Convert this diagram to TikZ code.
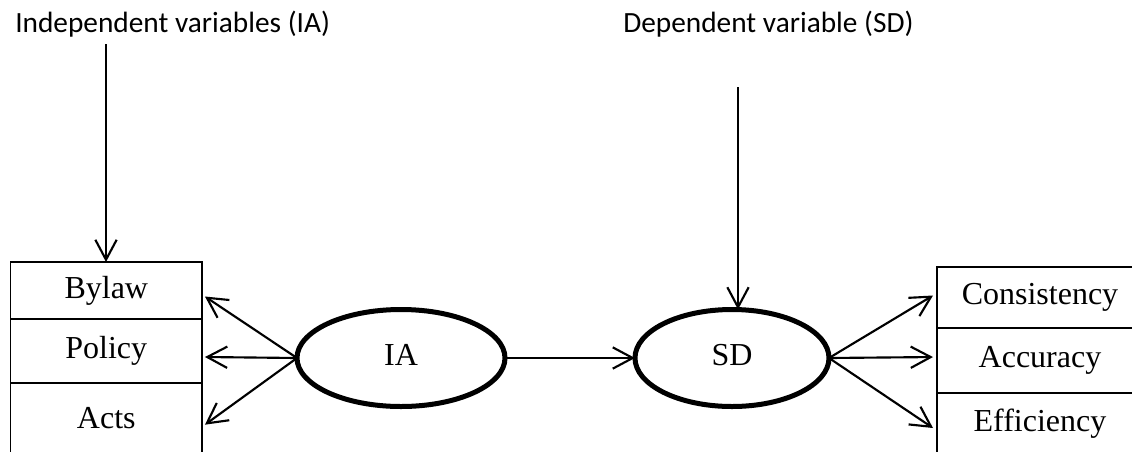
\documentclass[tikz,border=0pt]{standalone}
\usepackage{fontspec}
\setmainfont{Liberation Serif}
\newfontfamily\calibri{Carlito}
\usetikzlibrary{positioning, arrows.meta, shapes.geometric}

\begin{document}
\begin{tikzpicture}[x=0.75pt, y=-0.75pt,
        box/.style={draw, line width=1.2pt, outer sep=0pt, inner sep=0pt,
            font=\fontsize{24}{28}\selectfont},
        var/.style={draw, ellipse, line width=3.75pt, outer sep=0pt, inner sep=0pt,
            minimum width=156pt, minimum height=72.75pt,
            font=\fontsize{24}{28}\selectfont},
        head/.style={anchor=base west, inner sep=0pt, font=\calibri\fontsize{22}{26}\selectfont},
        arr/.style={-{Straight Barb[length=15pt, width=16pt]}, line width=1.6pt}]
    \useasboundingbox (0,0) rectangle (1132,451);
    \clip (0,0) rectangle (1132,451);

    \node[head] (indep) at (15,32) {Independent variables (IA)};
    \node[head] (dep) at (623,32) {Dependent variable (SD)};

    \node[box, minimum width=143.6pt, minimum height=42.75pt] (bylaw) at (106.3,290.5) {Bylaw};
    \node[box, minimum width=143.6pt, minimum height=48pt, below=0pt of bylaw] (policy) {Policy};
    \node[box, minimum width=143.6pt, minimum height=52.5pt, below=0pt of policy] (acts) {Acts};

    \node[box, minimum width=154.5pt, minimum height=45.75pt] (cons) at (1040,297.5) {Consistency};
    \node[box, minimum width=154.5pt, minimum height=48.75pt, below=0pt of cons] (acc) {Accuracy};
    \node[box, minimum width=154.5pt, minimum height=46.5pt, below=0pt of acc] (eff) {Efficiency};

    \node[var, minimum width=156pt] (ia) at (401,358) {\raisebox{5pt}{IA}};
    \node[var, minimum width=145.5pt] (sd) at (732,358) {\raisebox{5pt}{SD}};

    \coordinate (iatop) at (106,44);
    \coordinate (sdtop) at (738,87);
    \draw[arr] (iatop) -- (iatop |- bylaw.north);
    \draw[arr] (sdtop) -- (sdtop |- sd.north);

    \foreach \n/\dy in {bylaw/-4.5pt, policy/-4.5pt, acts/-5pt}
        \draw[arr] (ia.west) -- ([xshift=2.2pt, yshift=\dy]\n.east);
    \draw[arr] (ia.east) -- (sd.west);
    \foreach \n/\dy in {cons/1.5pt, acc/2.6pt, eff/-3pt}
        \draw[arr] (sd.east) -- ([xshift=-3pt, yshift=\dy]\n.west);
\end{tikzpicture}
\end{document}
